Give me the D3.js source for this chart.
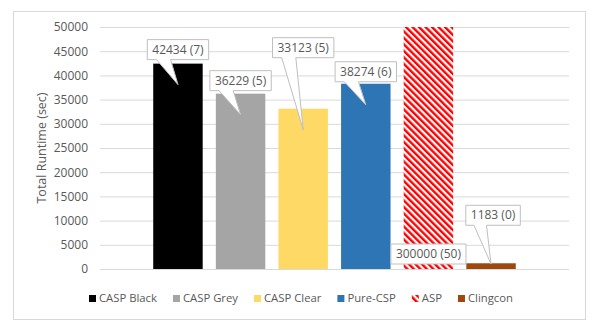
<!DOCTYPE html>
<html>
<head>
<meta charset="utf-8">
<script src="https://cdn.jsdelivr.net/npm/d3@7"></script>
<style>
  html, body { margin: 0; padding: 0; background: #fff; }
  svg { display: block; font-family: "Open Sans", "Liberation Sans", sans-serif; }
</style>
</head>
<body>
<svg id="chart" width="598" height="331"></svg>
<script>
// data
const series = ['CASP Black', 'CASP Grey', 'CASP Clear', 'Pure-CSP', 'ASP', 'Clingcon'];
const runtimes = [42434, 36229, 33123, 38274, 300000, 1183];
const unsolved = [7, 5, 5, 6, 50, 0];
const yTicks = [0, 5000, 10000, 15000, 20000, 25000, 30000, 35000, 40000, 45000, 50000];
const yTitle = 'Total Runtime (sec)';

// look
const colors = ['#000000', '#a5a5a5', '#ffd966', '#2e75b6', 'url(#aspStripes)', '#9e480e'];
// callout box centre, relative to the (clipped) bar top
const calloutShift = [[0, -14], [0, -13], [0, -61], [0, -12], [0, 227], [2, -48]];
const textColor = '#595959';
const gridColor = '#d9d9d9';

const svg = d3.select('#chart');

const defs = svg.append('defs');
const pat = defs.append('pattern')
  .attr('id', 'aspStripes')
  .attr('patternUnits', 'userSpaceOnUse')
  .attr('width', 4.6)
  .attr('height', 4.6)
  .attr('patternTransform', 'rotate(-45)');
pat.append('rect').attr('width', 4.6).attr('height', 4.6).attr('fill', '#fff');
pat.append('rect').attr('width', 2.4).attr('height', 4.6).attr('fill', '#ff0000');

// chart area border
svg.append('rect')
  .attr('x', 13.5).attr('y', 11.5)
  .attr('width', 572).attr('height', 308)
  .attr('fill', '#fff')
  .attr('stroke', gridColor);

const x = d3.scaleBand()
  .domain(series)
  .range([100, 569])
  .paddingInner(0.21)
  .paddingOuter(0.85);

const y = d3.scaleLinear()
  .domain([0, 50000])
  .range([269, 27])
  .clamp(true);

// gridlines + tick labels
const yAxis = d3.axisLeft(y)
  .tickValues(yTicks)
  .tickSize(-(569 - 100))
  .tickPadding(12)
  .tickFormat(d3.format('d'));

const gAxis = svg.append('g')
  .attr('transform', 'translate(100,0)')
  .call(yAxis);
gAxis.select('.domain').remove();
gAxis.selectAll('.tick line').attr('stroke', gridColor).attr('stroke-width', 1);
gAxis.selectAll('.tick text')
  .attr('fill', textColor)
  .attr('font-size', 12)
  .attr('font-family', '"Open Sans", sans-serif');

svg.append('text')
  .attr('transform', `translate(42,${(269 + 27) / 2}) rotate(-90)`)
  .attr('text-anchor', 'middle')
  .attr('dy', '0.35em')
  .attr('fill', textColor)
  .attr('font-size', 12.5)
  .text(yTitle);

// bars
svg.append('g')
  .selectAll('rect')
  .data(series)
  .join('rect')
  .attr('x', (d) => x(d))
  .attr('width', x.bandwidth())
  .attr('y', (d, i) => y(runtimes[i]))
  .attr('height', (d, i) => y(0) - y(runtimes[i]))
  .attr('fill', (d, i) => colors[i]);

// callout labels
const gLabels = svg.append('g');
series.forEach((name, i) => {
  const top = y(runtimes[i]);
  const cx = x(name) + x.bandwidth() / 2;
  const tipX = cx;
  const tipY = Math.min(top + 21, y(0) - 5);
  const boxCx = cx + calloutShift[i][0];
  const boxCy = top + calloutShift[i][1];

  const g = gLabels.append('g');
  const path = g.append('path');
  const label = g.append('text')
    .attr('x', boxCx)
    .attr('y', boxCy)
    .attr('dy', '0.35em')
    .attr('text-anchor', 'middle')
    .attr('fill', textColor)
    .attr('font-size', 12)
    .text(`${runtimes[i]} (${unsolved[i]})`);

  const w = label.node().getComputedTextLength() + 10;
  const h = 20;
  const l = boxCx - w / 2;
  const r = boxCx + w / 2;
  const t = boxCy - h / 2;
  const b = boxCy + h / 2;

  let d;
  if (tipY > b) {
    const p1 = l + w * 0.15;
    const p2 = l + w * 0.38;
    d = `M${l},${t}H${r}V${b}H${p2}L${tipX},${tipY}L${p1},${b}H${l}Z`;
  } else {
    d = `M${l},${t}H${r}V${b}H${l}Z`;
  }
  path.attr('d', d)
    .attr('fill', '#fff')
    .attr('stroke', '#bfbfbf')
    .attr('stroke-width', 1);
});

// legend
const legend = svg.append('g');
const items = legend.selectAll('g')
  .data(series)
  .join('g');
items.append('rect')
  .attr('width', 7)
  .attr('height', 7)
  .attr('y', -3.5)
  .attr('fill', (d, i) => colors[i]);
items.append('text')
  .attr('x', 10)
  .attr('dy', '0.35em')
  .attr('fill', textColor)
  .attr('font-size', 11.3)
  .text((d) => d);

let cursor = 0;
const offsets = [];
items.each(function () {
  offsets.push(cursor);
  const tw = d3.select(this).select('text').node().getComputedTextLength();
  cursor += 10 + tw + 16;
});
const legendWidth = cursor - 16;
const legendLeft = 301 - legendWidth / 2;
items.attr('transform', (d, i) => `translate(${legendLeft + offsets[i]},298.5)`);
</script>
</body>
</html>
